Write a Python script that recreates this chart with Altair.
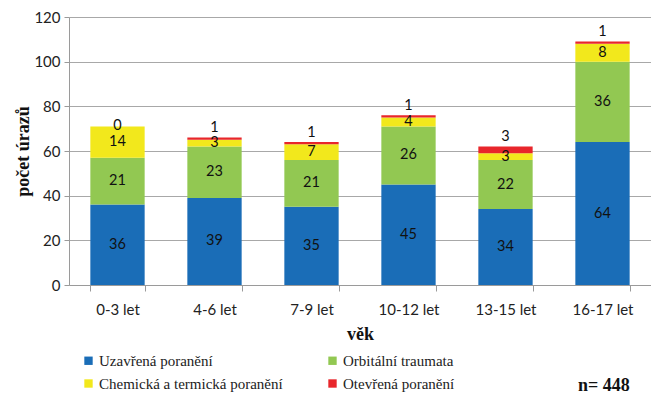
import altair as alt
import pandas as pd

categories = ["0-3 let", "4-6 let", "7-9 let", "10-12 let", "13-15 let", "16-17 let"]
series = ["Uzavřená poranění", "Orbitální traumata", "Chemická a termická poranění", "Otevřená poranění"]
uzavrena = [36, 39, 35, 45, 34, 64]
orbitalni = [21, 23, 21, 26, 22, 36]
chemicka = [14, 3, 7, 4, 3, 8]
otevrena = [0, 1, 1, 1, 3, 1]
colors = ["#1a6db7", "#92c852", "#f2e81c", "#e8262b"]
note = ["n= 448"]

rows = []
for si, vals in enumerate([uzavrena, orbitalni, chemicka, otevrena]):
    for ci, v in enumerate(vals):
        rows.append({"cat": categories[ci], "series": series[si], "order": si, "value": v})
df = pd.DataFrame(rows)

SANS = "Lato"
SERIF = "Liberation Serif"

xenc = alt.X("cat:N", sort=categories,
             scale=alt.Scale(paddingInner=0.44, paddingOuter=0.22),
             axis=alt.Axis(title="věk", labelAngle=0, tickBand="extent", tickSize=6,
                           labelPadding=11, titlePadding=8, domainColor="#9a9a9a",
                           tickColor="#9a9a9a", labelFont=SANS, labelFontSize=15,
                           labelColor="#222", titleFont=SERIF, titleFontSize=18,
                           titleFontWeight="bold", titleColor="#111", grid=False))

yscale = alt.Scale(domain=[0, 120])

base = alt.Chart(df).transform_stack(
    stack="value", as_=["y0", "y1"], groupby=["cat"], sort=[alt.SortField("order")]
)

bars = base.mark_bar().encode(
    x=xenc,
    y=alt.Y("y0:Q", scale=yscale,
            axis=alt.Axis(title="počet úrazů", values=[0, 20, 40, 60, 80, 100, 120],
                          tickSize=5, labelPadding=4, titlePadding=1,
                          domainColor="#9a9a9a", tickColor="#9a9a9a", gridColor="#a8a8a8",
                          labelFont=SANS, labelFontSize=15, labelColor="#222",
                          titleFont=SERIF, titleFontSize=18,
                          titleFontWeight="bold", titleColor="#111")),
    y2="y1:Q",
    color=alt.Color("series:N", scale=alt.Scale(domain=series, range=colors),
                    legend=alt.Legend(title=None, orient="none", legendX=12, legendY=336,
                                      direction="horizontal",
                                      columns=2, columnPadding=42, rowPadding=7,
                                      symbolType="square", symbolSize=70,
                                      symbolStrokeWidth=0, labelFont=SERIF,
                                      labelOffset=3,
                                      labelFontSize=15, labelColor="#222", labelLimit=400,
                                      padding=0)),
    order=alt.Order("order:Q"),
)

inner = base.transform_filter("datum.order < 3").transform_calculate(
    mid="(datum.y0 + datum.y1) / 2"
).mark_text(font=SANS, fontSize=14.5, color="#111").encode(
    x=alt.X("cat:N", sort=categories), y=alt.Y("mid:Q", scale=yscale), text="value:Q"
)

top = base.transform_filter("datum.order == 3").transform_calculate(
    ylab="datum.y1 + (datum.value > 0 ? 4.2 : 0)"
).mark_text(font=SANS, fontSize=14.5, color="#111").encode(
    x=alt.X("cat:N", sort=categories), y=alt.Y("ylab:Q", scale=yscale), text="value:Q"
)

note_layer = alt.Chart(pd.DataFrame({"t": note})).mark_text(
    font=SERIF, fontSize=18, fontWeight="bold", color="#111", align="left"
).encode(x=alt.value(509), y=alt.value(369), text="t:N")

chart = alt.layer(bars, inner, top, note_layer).properties(
    width=582, height=268,
    autosize=alt.AutoSizeParams(type="none"),
    padding={"left": 61, "top": 9, "right": 0, "bottom": 110},
).configure_view(stroke=None).configure_axis(gridWidth=1.2)

chart.save("out.html", embed_options={"renderer": "svg", "actions": False})
